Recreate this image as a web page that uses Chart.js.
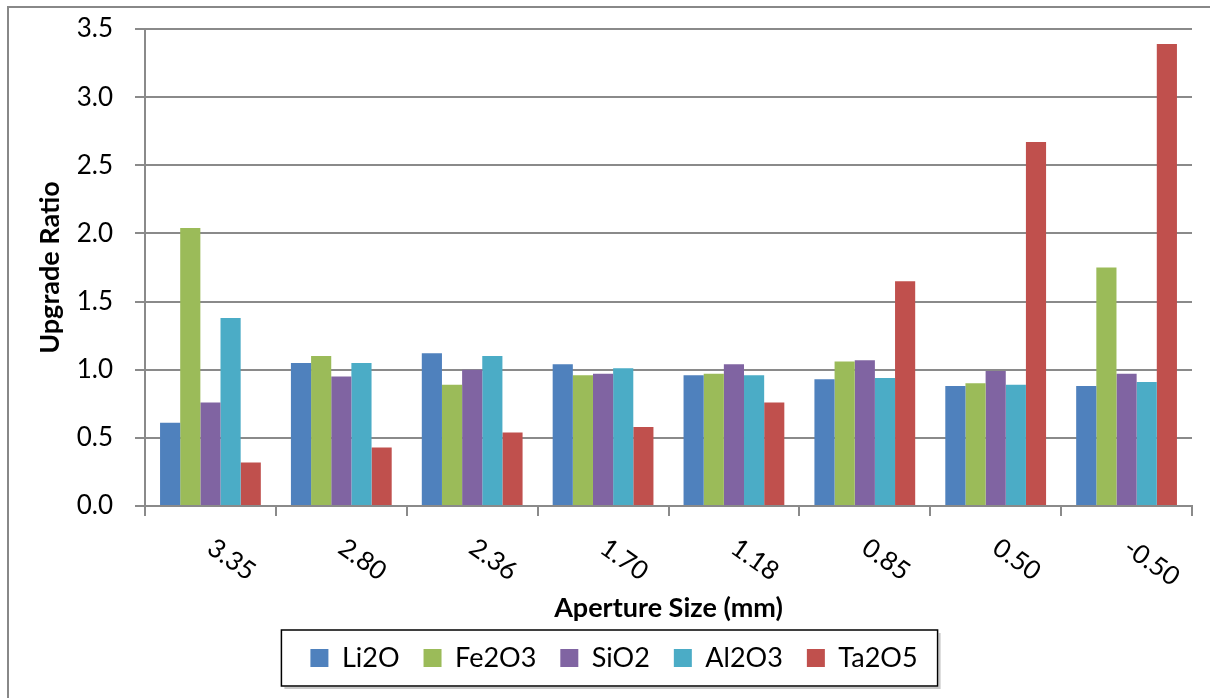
<!DOCTYPE html>
<html>
<head>
<meta charset="utf-8">
<script src="https://cdn.jsdelivr.net/npm/chart.js@4/dist/chart.umd.min.js"></script>
<style>
  html, body { margin: 0; padding: 0; background: #ffffff; }
  #wrap { width: 1210px; height: 698px; }
</style>
</head>
<body>
<div id="wrap"><canvas id="chart" width="1210" height="698"></canvas></div>
<script>
// Aperture sizes (mm) used as category labels
const categories = ['3.35', '2.80', '2.36', '1.70', '1.18', '0.85', '0.50', '-0.50'];

// Upgrade ratio per oxide for each size fraction
const li2o  = [0.61, 1.05, 1.12, 1.04, 0.96, 0.93, 0.88, 0.88];
const fe2o3 = [2.04, 1.10, 0.89, 0.96, 0.97, 1.06, 0.90, 1.75];
const sio2  = [0.76, 0.95, 1.00, 0.97, 1.04, 1.07, 0.99, 0.97];
const al2o3 = [1.38, 1.05, 1.10, 1.01, 0.96, 0.94, 0.89, 0.91];
const ta2o5 = [0.32, 0.43, 0.54, 0.58, 0.76, 1.65, 2.67, 3.39];

const seriesNames = ['Li2O', 'Fe2O3', 'SiO2', 'Al2O3', 'Ta2O5'];
const seriesColors = ['#4F81BD', '#9BBB59', '#8064A2', '#4BACC6', '#C0504D'];

// Value axis range
const yMin = 0;
const yMax = 3.5;
const yStep = 0.5;

const GRID = '#8a8a8a';
const FONT = 'Lato';

// Outer frame (left and top edges)
const framePlugin = {
  id: 'frame',
  beforeDraw(chart) {
    const ctx = chart.ctx;
    ctx.save();
    ctx.strokeStyle = '#888888';
    ctx.lineWidth = 2;
    ctx.beginPath();
    ctx.moveTo(8, 698);
    ctx.lineTo(8, 7);
    ctx.lineTo(1210, 7);
    ctx.stroke();
    ctx.restore();
  }
};

// Category labels written at a slant below the axis
const slantLabels = {
  id: 'slantLabels',
  afterDraw(chart) {
    const xs = chart.scales.x;
    const ctx = chart.ctx;
    ctx.save();
    ctx.font = '26px ' + FONT;
    ctx.fillStyle = '#000000';
    ctx.textAlign = 'left';
    ctx.textBaseline = 'middle';
    categories.forEach((lab, i) => {
      const x = xs.getPixelForValue(i);
      ctx.save();
      ctx.translate(x, xs.top + 39);
      ctx.rotate(35 * Math.PI / 180);
      ctx.fillText(lab, 0, 0);
      ctx.restore();
    });
    ctx.restore();
  }
};

// Shift the legend row and draw a box around it
const LEGEND_SHIFT = 18;
const legendBox = {
  id: 'legendBox',
  afterLayout(chart) {
    const lg = chart.legend;
    if (!lg) return;
    lg.left += LEGEND_SHIFT;
    lg.right += LEGEND_SHIFT;
    (lg.legendHitBoxes || []).forEach(h => { h.left += LEGEND_SHIFT; });
  },
  afterDraw(chart) {
    const lg = chart.legend;
    if (!lg || !lg.legendHitBoxes || !lg.legendHitBoxes.length) return;
    const hb = lg.legendHitBoxes;
    const first = hb[0];
    const last = hb[hb.length - 1];
    const left = first.left - 29;
    const right = last.left + last.width + 20;
    const top = first.top - 14.5;
    const bottom = first.top + first.height + 14.5;
    const ctx = chart.ctx;
    ctx.save();
    ctx.strokeStyle = '#c8c8c8';
    ctx.lineWidth = 2;
    ctx.beginPath();
    ctx.moveTo(right + 2, top + 3);
    ctx.lineTo(right + 2, bottom + 2);
    ctx.lineTo(left + 3, bottom + 2);
    ctx.stroke();
    ctx.strokeStyle = '#000000';
    ctx.lineWidth = 1.5;
    ctx.strokeRect(left, top, right - left, bottom - top);
    ctx.restore();
  }
};

const datasets = [li2o, fe2o3, sio2, al2o3, ta2o5].map((vals, i) => ({
  label: seriesNames[i],
  data: vals,
  backgroundColor: seriesColors[i],
  borderWidth: 0,
  categoryPercentage: 0.77,
  barPercentage: 1.0
}));

new Chart(document.getElementById('chart'), {
  type: 'bar',
  data: { labels: categories, datasets },
  plugins: [framePlugin, slantLabels, legendBox],
  options: {
    responsive: false,
    animation: false,
    layout: { padding: { left: 0, right: 18, top: 29, bottom: 16.5 } },
    plugins: {
      tooltip: { enabled: false },
      legend: {
        position: 'bottom',
        align: 'center',
        labels: {
          boxWidth: 18,
          boxHeight: 18,
          padding: 24,
          color: '#000000',
          font: { family: FONT, size: 27 }
        }
      }
    },
    scales: {
      x: {
        grid: {
          display: true,
          drawOnChartArea: false,
          drawTicks: true,
          tickLength: 10,
          color: GRID,
          lineWidth: 2
        },
        border: { display: true, color: GRID, width: 2 },
        ticks: { display: false },
        title: {
          display: true,
          text: 'Aperture Size (mm)',
          color: '#000000',
          font: { family: FONT, size: 27, weight: 'bold', lineHeight: 0.926 },
          padding: 0
        },
        afterFit(scale) { scale.height = 114.5; }
      },
      y: {
        min: yMin,
        max: yMax,
        grid: {
          color: GRID,
          lineWidth: 2,
          drawTicks: true,
          tickLength: 10
        },
        border: { display: true, color: GRID, width: 2 },
        ticks: {
          stepSize: yStep,
          padding: 22,
          color: '#000000',
          font: { family: FONT, size: 26 },
          callback: (v) => Number(v).toFixed(1)
        },
        title: {
          display: true,
          text: 'Upgrade Ratio',
          color: '#000000',
          font: { family: FONT, size: 27, weight: 'bold', lineHeight: 1.2 },
          padding: { top: 34, bottom: 0 }
        },
        afterFit(scale) {
          scale.width = 145;
          scale.paddingTop = 0;
          scale.paddingBottom = 0;
        }
      }
    }
  }
});
</script>
</body>
</html>
